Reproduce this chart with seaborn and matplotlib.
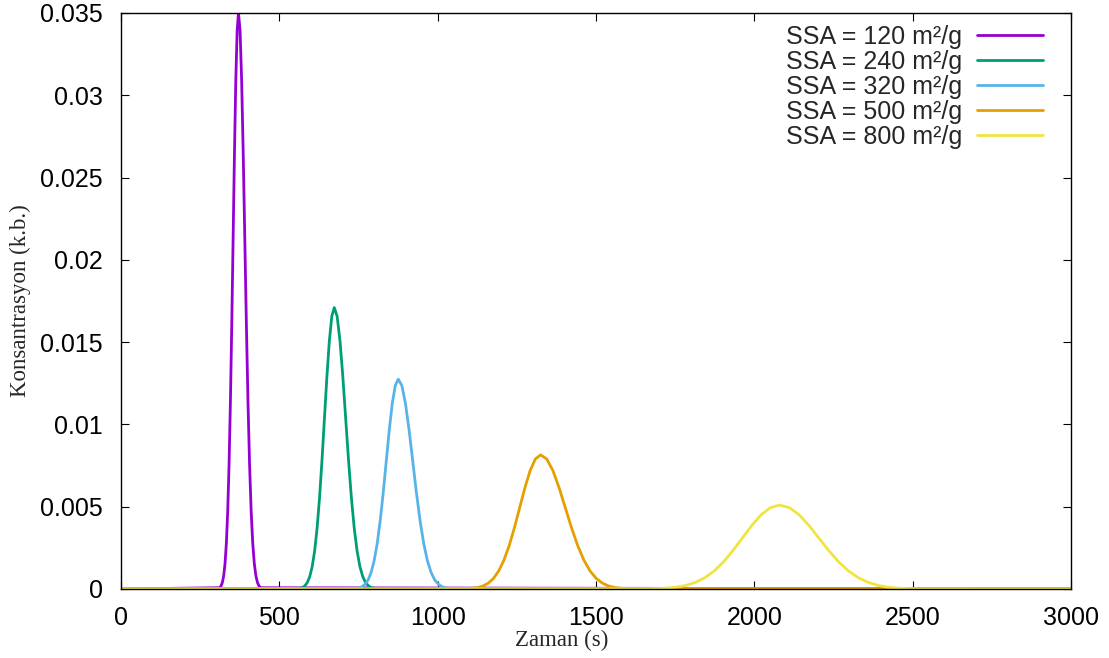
import numpy as np
import pandas as pd
import matplotlib
matplotlib.use("Agg")
import matplotlib.pyplot as plt
import seaborn as sns

# ---- data ----
labels = ["SSA = 120 m²/g", "SSA = 240 m²/g", "SSA = 320 m²/g",
          "SSA = 500 m²/g", "SSA = 800 m²/g"]
colors = ["#9400d3", "#009e73", "#56b4e9", "#e69f00", "#f0e442"]

t_120 = [0, 311.5, 315.75, 320, 324.25, 328.5, 332.75, 337, 341.25, 345.5, 349.75, 354, 358.25, 362.5,
         366.75, 371, 376, 381, 386, 391, 396, 401, 406, 411, 416, 421, 426, 431, 436, 441, 3000]
c_120 = [0, 0.0000767, 0.000178, 0.000389, 0.000798, 0.001538, 0.002785, 0.004737, 0.007569,
         0.011363, 0.016024, 0.021229, 0.026419, 0.030888, 0.033923, 0.035,
         0.033923, 0.030888, 0.026419, 0.021229, 0.016024, 0.011363, 0.007569, 0.004737,
         0.002785, 0.001538, 0.000798, 0.000389, 0.000178, 0.0000767, 0]

t_240 = [0, 565, 572.75, 580.5, 588.25, 596, 603.75, 611.5, 619.25, 627, 634.75, 642.5, 650.25, 658,
         665.75, 673.5, 682.5, 691.5, 700.5, 709.5, 718.5, 727.5, 736.5, 745.5, 754.5, 763.5, 772.5,
         781.5, 790.5, 799.5, 3000]
c_240 = [0, 0.0000374, 0.0000869, 0.00019, 0.00039, 0.000751, 0.00136, 0.002314, 0.003698,
         0.005552, 0.007829, 0.010372, 0.012908, 0.015091, 0.016574, 0.0171,
         0.016574, 0.015091, 0.012908, 0.010372, 0.007829, 0.005552, 0.003698, 0.002314,
         0.00136, 0.000751, 0.00039, 0.00019, 0.0000869, 0.0000374, 0]

t_320 = [0, 742.5, 752, 761.5, 771, 780.5, 790, 799.5, 809, 818.5, 828, 837.5, 847, 856.5, 866, 875.5,
         887, 898.5, 910, 921.5, 933, 944.5, 956, 967.5, 979, 990.5, 1002, 1013.5, 1025, 1036.5, 3000]
c_320 = [0, 0.0000279, 0.0000648, 0.000142, 0.000291, 0.00056, 0.001014, 0.001726, 0.002757,
         0.004139, 0.005837, 0.007733, 0.009624, 0.011252, 0.012358, 0.01275,
         0.012358, 0.011252, 0.009624, 0.007733, 0.005837, 0.004139, 0.002757, 0.001726,
         0.001014, 0.00056, 0.000291, 0.000142, 0.0000648, 0.0000279, 0]

t_500 = [0, 1094, 1110.5, 1127, 1143.5, 1160, 1176.5, 1193, 1209.5, 1226, 1242.5, 1259, 1275.5, 1292,
         1308.5, 1325, 1344.5, 1364, 1383.5, 1403, 1422.5, 1442, 1461.5, 1481, 1500.5, 1520, 1539.5,
         1559, 1578.5, 1598, 3000]
c_500 = [0, 0.0000178, 0.0000414, 0.0000905, 0.000186, 0.000358, 0.000648, 0.001103, 0.001763,
         0.002646, 0.003731, 0.004943, 0.006152, 0.007192, 0.007899, 0.00815,
         0.007899, 0.007192, 0.006152, 0.004943, 0.003731, 0.002646, 0.001763, 0.001103,
         0.000648, 0.000358, 0.000186, 0.0000905, 0.0000414, 0.0000178, 0]

t_800 = [0, 1667, 1696.5, 1726, 1755.5, 1785, 1814.5, 1844, 1873.5, 1903, 1932.5, 1962, 1991.5, 2021,
         2050.5, 2080, 2111, 2142, 2173, 2204, 2235, 2266, 2297, 2328, 2359, 2390, 2421, 2452, 2483,
         2514, 3000]
c_800 = [0, 0.0000112, 0.0000259, 0.0000567, 0.000116, 0.000224, 0.000406, 0.00069, 0.001103,
         0.001656, 0.002335, 0.003093, 0.00385, 0.004501, 0.004943, 0.0051,
         0.004943, 0.004501, 0.00385, 0.003093, 0.002335, 0.001656, 0.001103, 0.00069,
         0.000406, 0.000224, 0.000116, 0.0000567, 0.0000259, 0.0000112, 0]

x_ticks = [0, 500, 1000, 1500, 2000, 2500, 3000]
y_ticks = [0, 0.005, 0.01, 0.015, 0.02, 0.025, 0.03, 0.035]
y_tick_labels = ["0", "0.005", "0.01", "0.015", "0.02", "0.025", "0.03", "0.035"]
x_label = "Zaman (s)"
y_label = "Konsantrasyon (k.b.)"

# ---- build long-form table ----
series_t = [t_120, t_240, t_320, t_500, t_800]
series_c = [c_120, c_240, c_320, c_500, c_800]
frames = []
for lab, t, c in zip(labels, series_t, series_c):
    frames.append(pd.DataFrame({"t": t, "c": c, "series": lab}))
df = pd.concat(frames, ignore_index=True)

sns.set_theme(style="ticks")
plt.rcParams["font.family"] = ["Liberation Sans", "DejaVu Sans"]

fig = plt.figure(figsize=(11.09, 6.58), dpi=100)
ax = fig.add_axes([121 / 1109, 1 - 589 / 658, 950 / 1109, 576 / 658])

for lab, col in zip(labels, colors):
    sub = df[df["series"] == lab]
    sns.lineplot(data=sub, x="t", y="c", color=col, linewidth=2.0, ax=ax,
                 label=lab, estimator=None, sort=False)

ax.set_xlim(0, 3000)
ax.set_ylim(0, 0.035)
ax.set_xticks(x_ticks)
ax.set_xticklabels([str(v) for v in x_ticks])
ax.set_yticks(y_ticks)
ax.set_yticklabels(y_tick_labels)
ax.tick_params(axis="both", direction="in", length=6, width=0.8, labelsize=18,
               top=True, right=True, colors="black")
ax.tick_params(axis="y", pad=13)
ax.tick_params(axis="x", pad=12.5)
for s in ax.spines.values():
    s.set_visible(True)
    s.set_linewidth(1.0)
    s.set_color("black")
ax.grid(False)

ax.set_xlabel(x_label, family="Liberation Serif", fontsize=16.5)
ax.set_ylabel(y_label, family="Liberation Serif", fontsize=16.5)
ax.xaxis.set_label_coords((562 - 121) / 950, -(640 - 589) / 576)
ax.yaxis.set_label_coords(-(121 - 20) / 950, 0.5)
ax.xaxis.label.set_va("center")
ax.yaxis.label.set_va("center")

leg = ax.legend(loc="upper right", frameon=False, markerfirst=False, fontsize=18,
                handlelength=2.64, handletextpad=0.6, labelspacing=0.04,
                borderaxespad=0.0, bbox_to_anchor=(0.981, 0.997))

fig.savefig("out.png", dpi=100)
